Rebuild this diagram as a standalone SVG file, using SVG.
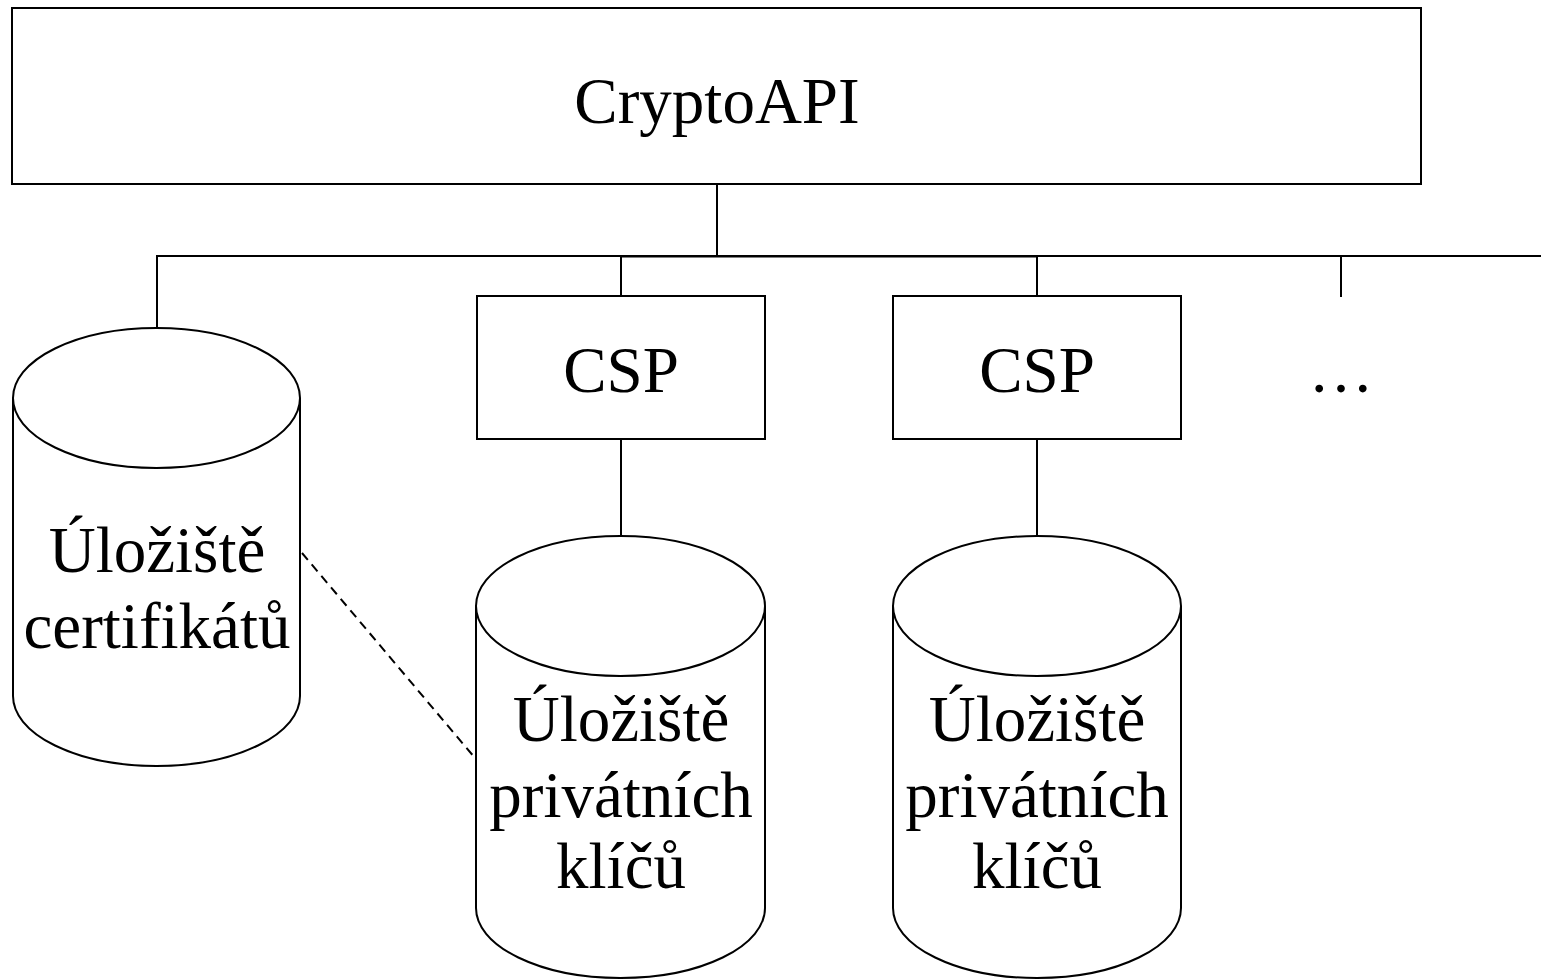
<svg xmlns="http://www.w3.org/2000/svg" width="1541" height="979" viewBox="0 0 1541 979">
<style>
.s{fill:#fff;stroke:#000;stroke-width:2}
.l{fill:none;stroke:#000;stroke-width:2}
.t{font-family:"Liberation Serif","Times New Roman",serif;font-size:65px;fill:#000;text-anchor:middle}
</style>
<rect width="1541" height="979" fill="#fff"/>
<g id="connectors">
<line class="l" x1="717" y1="184" x2="717" y2="256"/>
<line class="l" x1="156" y1="256" x2="1541" y2="256"/>
<line class="l" x1="620" y1="256.5" x2="1037" y2="256.5" stroke-width="3"/>
<line class="l" x1="157" y1="256" x2="157" y2="328"/>
<line class="l" x1="621" y1="256" x2="621" y2="296"/>
<line class="l" x1="1037" y1="256" x2="1037" y2="296"/>
<line class="l" x1="1341" y1="256" x2="1341" y2="297"/>
<line class="l" x1="621" y1="439" x2="621" y2="536"/>
<line class="l" x1="1037" y1="439" x2="1037" y2="536"/>
<line class="l" x1="302" y1="553" x2="475" y2="758" stroke-dasharray="9 6"/>
</g>
<g id="cryptoapi">
<rect class="s" x="12" y="8" width="1409" height="176"/>
<text class="t" x="717" y="123">CryptoAPI</text>
</g>
<g id="csp1">
<rect class="s" x="477" y="296" width="288" height="143"/>
<text class="t" x="621" y="392">CSP</text>
</g>
<g id="csp2">
<rect class="s" x="893" y="296" width="288" height="143"/>
<text class="t" x="1037" y="392">CSP</text>
</g>
<g id="more">
<text class="t" x="1341" y="392">…</text>
</g>
<g id="store-cert">
<path class="s" d="M13 398 L13 696 A143.5 70 0 0 0 300 696 L300 398"/>
<ellipse class="s" cx="156.5" cy="398" rx="143.5" ry="70"/>
<text class="t" x="157" y="572">Úložiště</text>
<text class="t" x="157" y="648">certifikátů</text>
</g>
<g id="store-keys1">
<path class="s" d="M476 606 L476 908 A144.5 70 0 0 0 765 908 L765 606"/>
<ellipse class="s" cx="620.5" cy="606" rx="144.5" ry="70"/>
<text class="t" x="621" y="741">Úložiště</text>
<text class="t" x="621" y="817">privátních</text>
<text class="t" x="621" y="888">klíčů</text>
</g>
<g id="store-keys2">
<path class="s" d="M893 606 L893 908 A144 70 0 0 0 1181 908 L1181 606"/>
<ellipse class="s" cx="1037" cy="606" rx="144" ry="70"/>
<text class="t" x="1037" y="741">Úložiště</text>
<text class="t" x="1037" y="817">privátních</text>
<text class="t" x="1037" y="888">klíčů</text>
</g>
</svg>
